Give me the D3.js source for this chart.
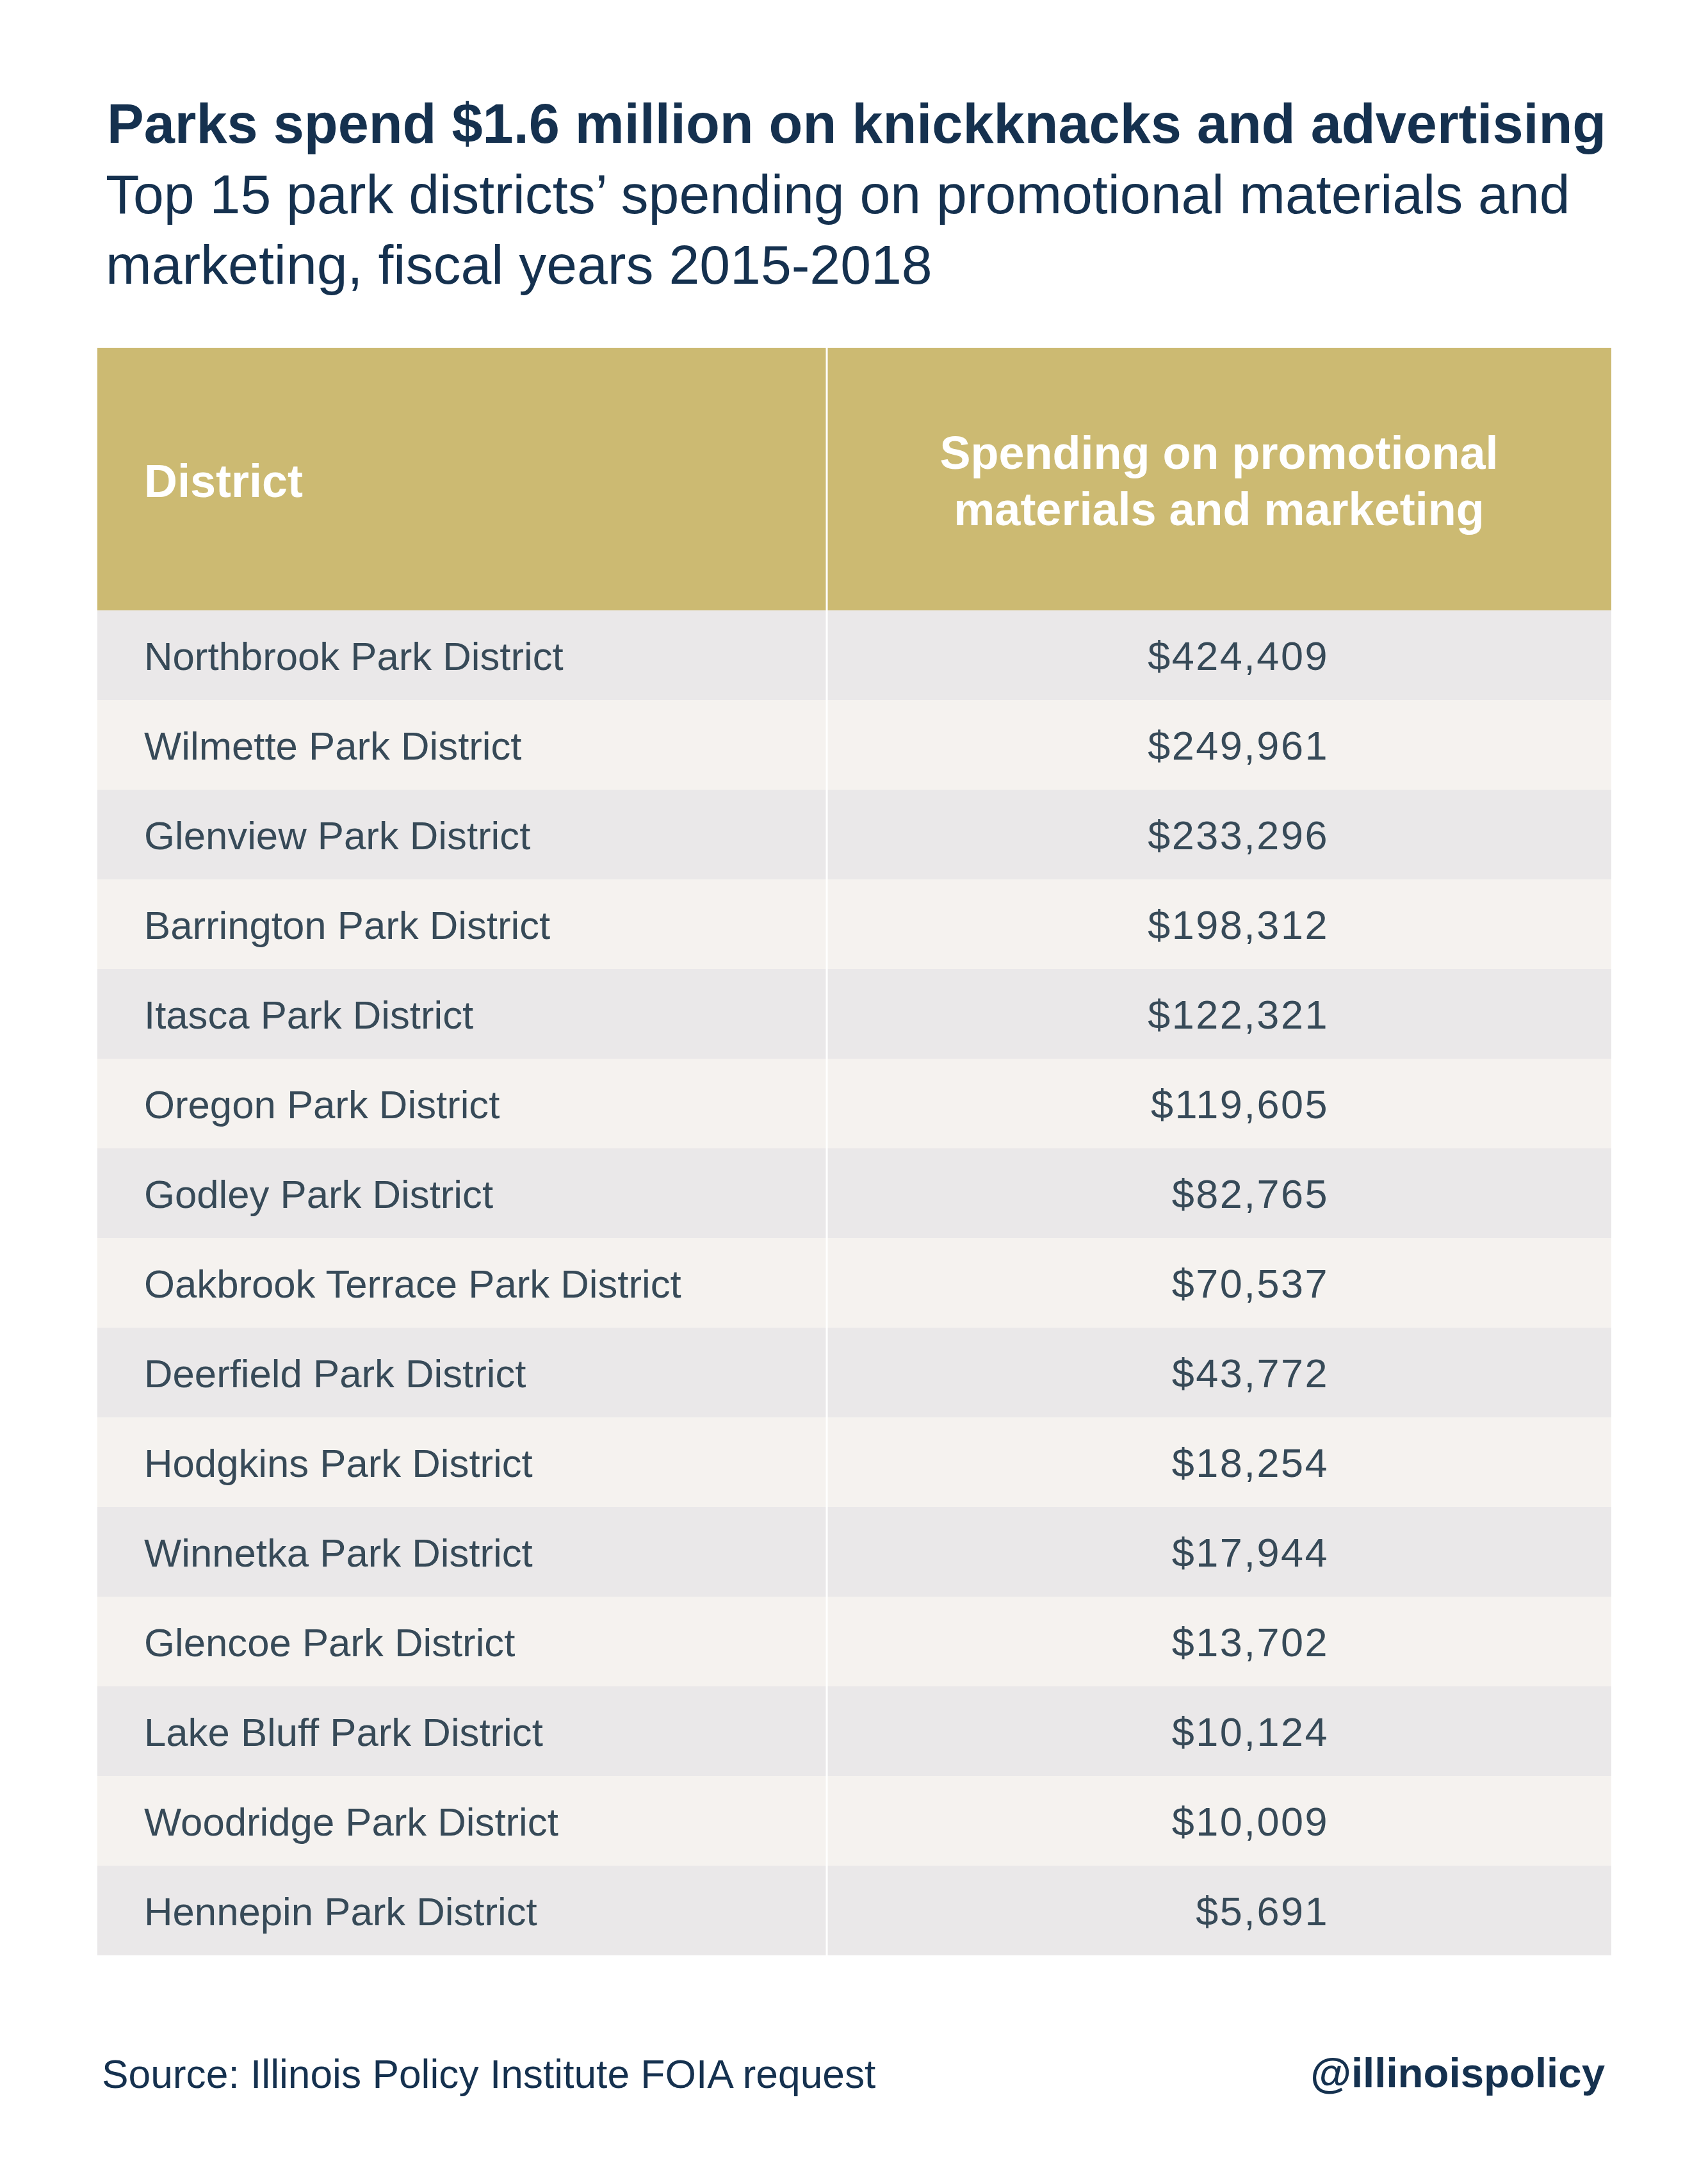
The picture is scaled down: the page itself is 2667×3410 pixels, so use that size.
<!DOCTYPE html>
<html>
<head>
<meta charset="utf-8">
<script src="https://cdn.jsdelivr.net/npm/d3@7"></script>
<style>
  html, body { margin: 0; padding: 0; background: #ffffff; }
  svg { display: block; }
</style>
</head>
<body>
<svg id="chart" width="2667" height="3410"></svg>
<script>
// ---- Data ----
const districts = [
  "Northbrook Park District",
  "Wilmette Park District",
  "Glenview Park District",
  "Barrington Park District",
  "Itasca Park District",
  "Oregon Park District",
  "Godley Park District",
  "Oakbrook Terrace Park District",
  "Deerfield Park District",
  "Hodgkins Park District",
  "Winnetka Park District",
  "Glencoe Park District",
  "Lake Bluff Park District",
  "Woodridge Park District",
  "Hennepin Park District"
];
const spending = [424409, 249961, 233296, 198312, 122321, 119605, 82765, 70537, 43772, 18254, 17944, 13702, 10124, 10009, 5691];
const columnLabels = ["District", "Spending on promotional\nmaterials and marketing"];
const titleText = "Parks spend $1.6 million on knickknacks and advertising";
const subtitleLines = ["Top 15 park districts\u2019 spending on promotional materials and", "marketing, fiscal years 2015-2018"];
const sourceText = "Source: Illinois Policy Institute FOIA request";
const handleText = "@illinoispolicy";

// ---- Layout ----
const W = 2667, H = 3410;
const tableLeft = 152, tableRight = 2516, colSplit = 1291;
const headerTop = 543, headerBottom = 953, tableBottom = 3053;
const navy = "#15314f", slate = "#374a58", gold = "#ccba72";
const rowFills = ["#eae8e9", "#f5f2ef"];
const font = "'Liberation Sans', Arial, Helvetica, sans-serif";

const svg = d3.select("#chart");
svg.append("rect").attr("width", W).attr("height", H).attr("fill", "#ffffff");

const rows = d3.scaleBand().domain(districts).range([headerBottom, tableBottom]).padding(0);
const fmt = d3.format("$,");

// Title
svg.append("text")
  .attr("x", 167).attr("y", 223)
  .attr("font-family", font).attr("font-weight", 700).attr("font-size", 86.5)
  .attr("fill", navy).text(titleText);

// Subtitle
svg.append("g").selectAll("text").data(subtitleLines).join("text")
  .attr("x", 165).attr("y", (d, i) => 333 + i * 110)
  .attr("font-family", font).attr("font-weight", 400).attr("font-size", 86)
  .attr("fill", navy).text(d => d);

// Header
svg.append("rect")
  .attr("x", tableLeft).attr("y", headerTop)
  .attr("width", tableRight - tableLeft).attr("height", headerBottom - headerTop)
  .attr("fill", gold);

svg.append("text")
  .attr("x", 225).attr("y", 776)
  .attr("font-family", font).attr("font-weight", 700).attr("font-size", 72)
  .attr("fill", "#ffffff").text(columnLabels[0]);

const h2 = columnLabels[1].split("\n");
svg.append("g").selectAll("text").data(h2).join("text")
  .attr("x", (colSplit + tableRight) / 2).attr("y", (d, i) => 732 + i * 88)
  .attr("text-anchor", "middle")
  .attr("font-family", font).attr("font-weight", 700).attr("font-size", 72)
  .attr("fill", "#ffffff").text(d => d);

// Rows
const rowG = svg.append("g").selectAll("g").data(districts).join("g")
  .attr("transform", d => `translate(0,${rows(d)})`);

rowG.append("rect")
  .attr("x", tableLeft).attr("y", 0)
  .attr("width", tableRight - tableLeft).attr("height", rows.bandwidth())
  .attr("fill", (d, i) => rowFills[i % 2]);

rowG.append("text")
  .attr("x", 225).attr("y", rows.bandwidth() / 2 + 23)
  .attr("font-family", font).attr("font-size", 61.7)
  .attr("fill", slate).text(d => d);

rowG.append("text")
  .attr("x", 2075).attr("y", rows.bandwidth() / 2 + 23)
  .attr("text-anchor", "end")
  .attr("font-family", font).attr("font-size", 63)
  .attr("letter-spacing", 2.5)
  .attr("fill", slate).text((d, i) => fmt(spending[i]));

// Column divider
svg.append("line")
  .attr("x1", colSplit).attr("x2", colSplit)
  .attr("y1", headerTop).attr("y2", tableBottom)
  .attr("stroke", "#ffffff").attr("stroke-width", 3);

// Footer
svg.append("text")
  .attr("x", 159).attr("y", 3260)
  .attr("font-family", font).attr("font-size", 62.3)
  .attr("fill", navy).text(sourceText);

svg.append("text")
  .attr("x", 2506).attr("y", 3259)
  .attr("text-anchor", "end")
  .attr("font-family", font).attr("font-weight", 700).attr("font-size", 65.4)
  .attr("fill", navy).text(handleText);
</script>
</body>
</html>
